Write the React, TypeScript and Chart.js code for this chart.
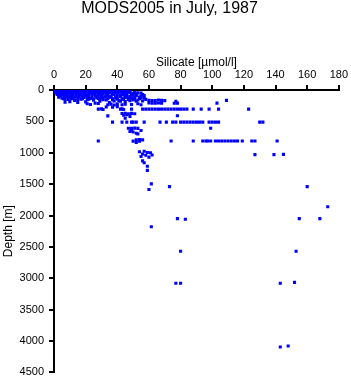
import { useEffect, useRef } from "react";
import { Chart, registerables } from "chart.js";
Chart.register(...registerables);

const FONT = "'Liberation Sans', Arial, Helvetica, sans-serif";

// [silicate µmol/l, depth m]
const surfaceLayer: [number, number][] = [
  [0.5, 0], [2, 2], [3.5, 0], [5, 3], [6.5, 1], [8, 0], [9.5, 4], [11, 1], [13, 0], [14.5, 3], [16, 1], [18, 0], [19.5, 5],
  [21, 2], [23, 0], [25, 3], [27, 1], [29, 0], [31, 4], [33, 2], [35, 0], [37, 3], [39, 1], [41, 0], [44, 2],
  [1, 5], [2, 8], [4, 6], [6, 9], [8, 7], [10, 6], [12, 9], [15, 7], [17, 10], [20, 8], [22, 6], [24, 9], [26, 7], [28, 10],
  [30, 8], [32, 6], [34, 9], [36, 7], [38, 10], [40, 8], [43, 6], [46, 9],
  [1, 12], [2.5, 18], [4, 15], [6, 22], [7.5, 14], [9, 25], [11, 17], [12.5, 28], [14, 20], [16, 13], [17.5, 24], [19, 30],
  [21, 16], [23, 22], [24.5, 27], [26, 14], [28, 20], [30, 26], [32, 18], [34, 24], [36, 15], [38, 28], [40, 20], [42, 25],
  [46, 18], [48, 30],
  [1.5, 25], [3, 30], [5, 28], [8, 32], [10, 30], [13, 34], [15, 32], [18, 38], [20, 34], [22, 40], [24, 36], [27, 42],
  [29, 38], [31, 30], [34, 34], [37, 42], [40, 30], [44, 38], [48, 44], [51, 36], [55, 50],
  [1, 35], [2, 45], [3.5, 55], [5, 40], [7, 50], [9, 38], [11, 58], [13, 44], [15, 52], [17, 36], [19, 48], [21, 60], [23, 42],
  [25, 55], [27, 38], [29, 50], [31, 46], [33, 58], [35, 40], [37, 52], [39, 45], [41, 35], [43, 56], [45, 48], [47, 40],
  [50, 52], [53, 45],
];

const mixedLayer: [number, number][] = [
  [2, 60], [4, 65], [6, 62], [9, 68], [12, 64], [14, 70], [17, 62], [19, 66], [22, 70], [25, 64], [28, 68], [31, 62],
  [34, 66], [37, 64], [40, 68], [43, 62], [46, 66], [49, 70], [52, 64], [56, 72],
  [2, 70], [3, 90], [5, 80], [6.5, 105], [8, 75], [10, 95], [12, 85], [14, 100], [16, 72], [18, 92], [20, 80], [22, 105],
  [24, 68], [26, 88], [28, 98], [30, 76], [32, 108], [34, 84], [36, 95], [38, 72], [40, 102], [42, 86], [44, 78], [46, 96],
  [48, 106], [50, 82], [52, 92], [55, 100], [57, 88],
  [4, 100], [8, 110], [11, 105], [13, 115], [16, 110], [19, 102], [21, 115], [24, 110], [27, 105], [30, 118], [33, 100],
  [36, 110], [39, 115], [42, 104], [45, 110], [48, 118], [51, 105], [54, 112],
  [3, 115], [5, 130], [7, 150], [9, 120], [11, 140], [13, 165], [15, 125], [17, 145], [19, 118], [21, 155], [23, 135],
  [25, 162], [27, 122], [29, 148], [31, 132], [33, 158], [35, 115], [37, 142], [39, 128], [41, 165], [43, 138], [45, 120],
  [47, 152], [49, 130], [51, 145], [53, 160], [55, 125], [58, 150],
  [6, 140], [9, 150], [12, 135], [15, 155], [18, 140], [22, 145], [25, 140], [28, 135], [31, 155], [34, 140], [37, 155],
  [40, 145], [44, 150], [47, 135], [50, 158], [54, 140], [57, 130],
  [7, 195], [10, 185], [15, 200], [20, 190], [26, 210], [29, 180], [35, 200], [38, 175], [42, 178], [45, 185], [48, 172],
  [52, 180], [56, 176], [60, 165], [62, 170], [64, 168], [66, 160], [68, 165], [70, 170], [60, 205], [62, 210], [64, 212],
  [66, 208], [68, 212], [76, 212], [78, 210], [77, 180], [103, 210], [109, 165],
  [21, 220], [23, 230], [28, 215], [34, 235], [36, 225], [38, 240], [40, 220], [43, 235], [45, 225], [49, 230], [53, 220], [55, 235],
];

const intermediateLayer: [number, number][] = [
  [33, 270], [37, 275], [40, 265],
  [28, 305], [30, 300], [31, 310], [42, 305], [43, 300], [44, 310], [49, 305], [56, 305], [58, 305], [60, 305], [62, 305],
  [64, 305], [66, 305], [68, 305], [70, 305], [72, 305], [74, 305], [76, 305], [78, 305], [80, 305], [82, 305], [84, 305],
  [88, 305], [93, 305], [98, 305], [104, 305], [123, 305],
  [43, 375], [45, 370], [47, 380], [49, 372], [51, 378], [44, 400], [46, 395], [48, 420], [45, 450], [34, 412], [78, 410],
  [37, 512], [43, 512], [46, 512], [49, 512], [50, 512], [52, 512], [57, 512], [67, 512], [71, 512], [75, 512], [77, 512],
  [80, 512], [82, 512], [84, 512], [86, 512], [88, 512], [90, 512], [92, 512], [94, 512], [98, 512], [100, 512], [102, 512],
  [104, 512], [130, 512], [132, 512],
  [47, 610], [49, 612], [51, 608], [53, 612], [99, 610], [49, 645], [55, 645], [48, 660], [50, 670], [52, 690], [53, 700],
  [28, 813], [52, 792], [54, 790], [56, 795], [52, 835], [50, 815], [54, 815], [74, 813], [88, 813], [94, 813], [96, 813],
  [97, 813], [99, 813], [102, 813], [104, 813], [106, 813], [108, 813], [110, 813], [112, 813], [114, 813], [116, 813],
  [119, 813], [125, 813], [127, 813], [141, 813],
];

const deepLayer: [number, number][] = [
  [54, 985], [57, 975], [59, 995], [61, 1000], [56, 1020], [58, 1040], [62, 1035], [55, 1060], [60, 1070],
  [127, 1030], [139, 1030], [145, 1025], [56, 1130], [57, 1160], [59, 1215], [59, 1280],
  [61.5, 1495], [60, 1585], [73, 1540], [160, 1540], [173, 1860],
  [78, 2050], [83, 2060], [155, 2050], [168, 2050], [61.5, 2180],
  [80, 2570], [153, 2570],
  [77, 3080], [80, 3080], [143, 3080], [152, 3065],
  [143, 4095], [148, 4080],
];

const xTicks = [0, 20, 40, 60, 80, 100, 120, 140, 160, 180];
const yTicks = [0, 500, 1000, 1500, 2000, 2500, 3000, 3500, 4000, 4500];

export default function App() {
  const ref = useRef<HTMLCanvasElement>(null);
  useEffect(() => {
    const pts = [...surfaceLayer, ...mixedLayer, ...intermediateLayer, ...deepLayer].map(([x, y]) => ({ x, y }));
    const chart = new Chart(ref.current!, {
      type: "scatter",
      data: {
        datasets: [
          {
            data: pts,
            backgroundColor: "#0000ff",
            borderColor: "#0000ff",
            borderWidth: 0,
            pointStyle: "rect",
            pointRadius: 2.2,
          },
        ],
      },
      options: {
        responsive: false,
        animation: false,
        maintainAspectRatio: false,
        layout: { padding: { left: 0, top: 0, right: 12, bottom: 10 } },
        plugins: {
          legend: { display: false },
          tooltip: { enabled: false },
          title: {
            display: true,
            text: "MODS2005 in July, 1987",
            color: "#000",
            font: { family: FONT, size: 16, weight: "normal", lineHeight: 1 },
            padding: { top: 1, bottom: 0 },
          },
        },
        scales: {
          x: {
            type: "linear",
            position: "top",
            min: xTicks[0],
            max: xTicks[xTicks.length - 1],
            afterFit: (s: any) => { s.height = 73; },
            afterBuildTicks: (s: any) => { s.ticks = xTicks.map((v) => ({ value: v })); },
            ticks: {
              color: "#000",
              font: { family: FONT, size: 11 },
              padding: 3,
              maxRotation: 0,
              autoSkip: false,
              callback: (v: any) => String(v),
            },
            grid: { drawOnChartArea: false, drawTicks: true, tickLength: 5, color: "#000", lineWidth: 2 },
            border: { display: true, color: "#000", width: 2 },
            title: {
              display: true,
              text: "Silicate [µmol/l]",
              color: "#000",
              font: { family: FONT, size: 12 },
              padding: { top: 38, bottom: 0 },
            },
          },
          y: {
            type: "linear",
            reverse: true,
            min: yTicks[0],
            max: yTicks[yTicks.length - 1],
            afterFit: (s: any) => { s.width = 54; },
            afterBuildTicks: (s: any) => { s.ticks = yTicks.map((v) => ({ value: v })); },
            ticks: {
              color: "#000",
              font: { family: FONT, size: 11 },
              padding: 5,
              autoSkip: false,
              callback: (v: any) => String(v),
            },
            grid: { drawOnChartArea: false, drawTicks: true, tickLength: 5, color: "#000", lineWidth: 2 },
            border: { display: true, color: "#000", width: 2 },
            title: {
              display: true,
              text: "Depth [m]",
              color: "#000",
              font: { family: FONT, size: 12 },
              padding: { top: 1, bottom: 0 },
            },
          },
        },
      },
    });
    return () => chart.destroy();
  }, []);
  return (
    <div style={{ position: "absolute", left: 0, top: 0, width: 351, height: 384 }}>
      <canvas ref={ref} width={351} height={384} style={{ display: "block", width: 351, height: 384 }} />
    </div>
  );
}
